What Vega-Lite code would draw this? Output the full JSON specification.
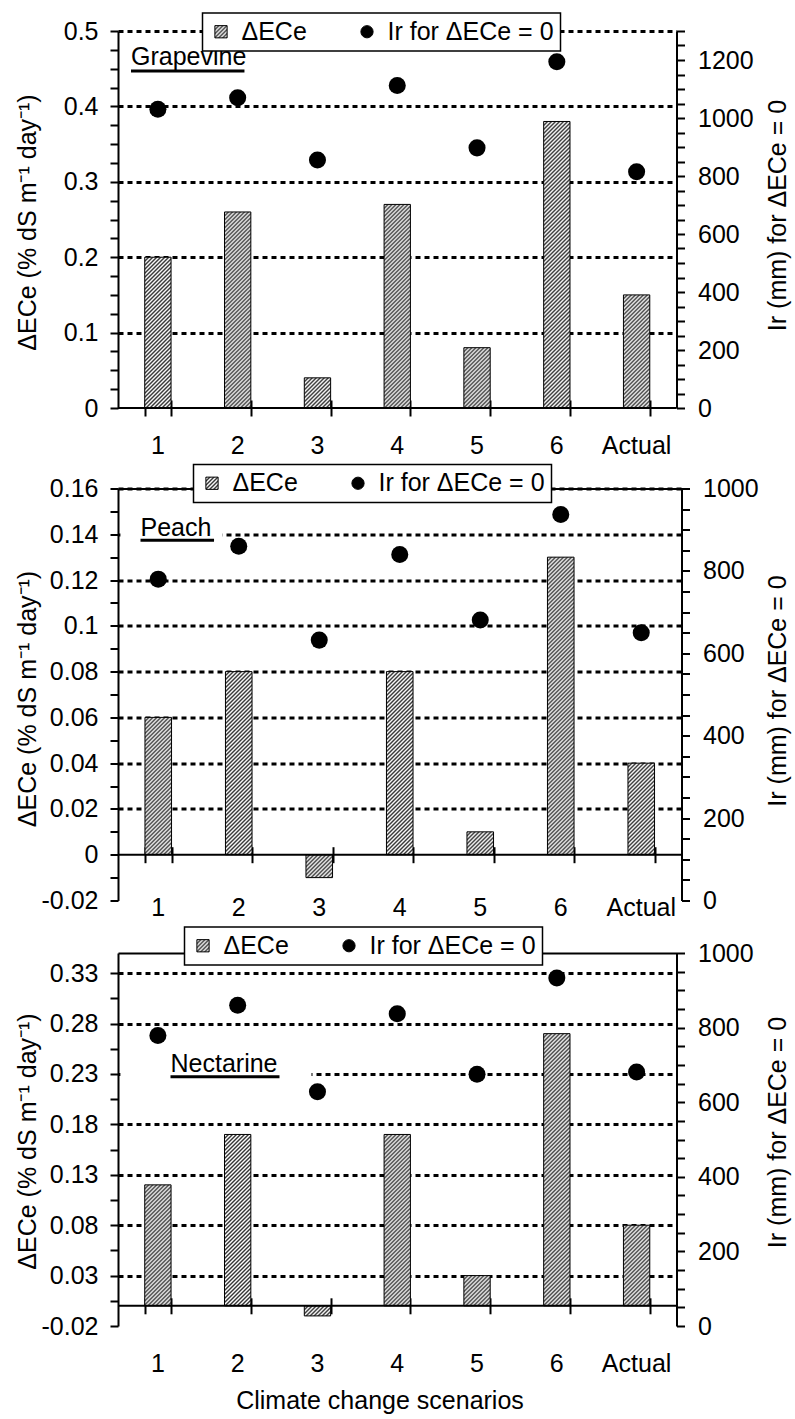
{
"$schema": "https://vega.github.io/schema/vega-lite/v6.json",
"background": "white",
"padding": {"left": 15, "top": 12, "right": 2, "bottom": 2},
"params": [{"name": "hs", "value": [
{"offset":0,"color":"#333"},{"offset":0.005,"color":"#fff"},{"offset":0.01,"color":"#333"},{"offset":0.015,"color":"#fff"},{"offset":0.02,"color":"#333"},{"offset":0.025,"color":"#fff"},{"offset":0.03,"color":"#333"},{"offset":0.035,"color":"#fff"},{"offset":0.04,"color":"#333"},{"offset":0.045,"color":"#fff"},
{"offset":0.05,"color":"#333"},{"offset":0.055,"color":"#fff"},{"offset":0.06,"color":"#333"},{"offset":0.065,"color":"#fff"},{"offset":0.07,"color":"#333"},{"offset":0.075,"color":"#fff"},{"offset":0.08,"color":"#333"},{"offset":0.085,"color":"#fff"},{"offset":0.09,"color":"#333"},{"offset":0.095,"color":"#fff"},
{"offset":0.1,"color":"#333"},{"offset":0.105,"color":"#fff"},{"offset":0.11,"color":"#333"},{"offset":0.115,"color":"#fff"},{"offset":0.12,"color":"#333"},{"offset":0.125,"color":"#fff"},{"offset":0.13,"color":"#333"},{"offset":0.135,"color":"#fff"},{"offset":0.14,"color":"#333"},{"offset":0.145,"color":"#fff"},
{"offset":0.15,"color":"#333"},{"offset":0.155,"color":"#fff"},{"offset":0.16,"color":"#333"},{"offset":0.165,"color":"#fff"},{"offset":0.17,"color":"#333"},{"offset":0.175,"color":"#fff"},{"offset":0.18,"color":"#333"},{"offset":0.185,"color":"#fff"},{"offset":0.19,"color":"#333"},{"offset":0.195,"color":"#fff"},
{"offset":0.2,"color":"#333"},{"offset":0.205,"color":"#fff"},{"offset":0.21,"color":"#333"},{"offset":0.215,"color":"#fff"},{"offset":0.22,"color":"#333"},{"offset":0.225,"color":"#fff"},{"offset":0.23,"color":"#333"},{"offset":0.235,"color":"#fff"},{"offset":0.24,"color":"#333"},{"offset":0.245,"color":"#fff"},
{"offset":0.25,"color":"#333"},{"offset":0.255,"color":"#fff"},{"offset":0.26,"color":"#333"},{"offset":0.265,"color":"#fff"},{"offset":0.27,"color":"#333"},{"offset":0.275,"color":"#fff"},{"offset":0.28,"color":"#333"},{"offset":0.285,"color":"#fff"},{"offset":0.29,"color":"#333"},{"offset":0.295,"color":"#fff"},
{"offset":0.3,"color":"#333"},{"offset":0.305,"color":"#fff"},{"offset":0.31,"color":"#333"},{"offset":0.315,"color":"#fff"},{"offset":0.32,"color":"#333"},{"offset":0.325,"color":"#fff"},{"offset":0.33,"color":"#333"},{"offset":0.335,"color":"#fff"},{"offset":0.34,"color":"#333"},{"offset":0.345,"color":"#fff"},
{"offset":0.35,"color":"#333"},{"offset":0.355,"color":"#fff"},{"offset":0.36,"color":"#333"},{"offset":0.365,"color":"#fff"},{"offset":0.37,"color":"#333"},{"offset":0.375,"color":"#fff"},{"offset":0.38,"color":"#333"},{"offset":0.385,"color":"#fff"},{"offset":0.39,"color":"#333"},{"offset":0.395,"color":"#fff"},
{"offset":0.4,"color":"#333"},{"offset":0.405,"color":"#fff"},{"offset":0.41,"color":"#333"},{"offset":0.415,"color":"#fff"},{"offset":0.42,"color":"#333"},{"offset":0.425,"color":"#fff"},{"offset":0.43,"color":"#333"},{"offset":0.435,"color":"#fff"},{"offset":0.44,"color":"#333"},{"offset":0.445,"color":"#fff"},
{"offset":0.45,"color":"#333"},{"offset":0.455,"color":"#fff"},{"offset":0.46,"color":"#333"},{"offset":0.465,"color":"#fff"},{"offset":0.47,"color":"#333"},{"offset":0.475,"color":"#fff"},{"offset":0.48,"color":"#333"},{"offset":0.485,"color":"#fff"},{"offset":0.49,"color":"#333"},{"offset":0.495,"color":"#fff"},
{"offset":0.5,"color":"#333"},{"offset":0.505,"color":"#fff"},{"offset":0.51,"color":"#333"},{"offset":0.515,"color":"#fff"},{"offset":0.52,"color":"#333"},{"offset":0.525,"color":"#fff"},{"offset":0.53,"color":"#333"},{"offset":0.535,"color":"#fff"},{"offset":0.54,"color":"#333"},{"offset":0.545,"color":"#fff"},
{"offset":0.55,"color":"#333"},{"offset":0.555,"color":"#fff"},{"offset":0.56,"color":"#333"},{"offset":0.565,"color":"#fff"},{"offset":0.57,"color":"#333"},{"offset":0.575,"color":"#fff"},{"offset":0.58,"color":"#333"},{"offset":0.585,"color":"#fff"},{"offset":0.59,"color":"#333"},{"offset":0.595,"color":"#fff"},
{"offset":0.6,"color":"#333"},{"offset":0.605,"color":"#fff"},{"offset":0.61,"color":"#333"},{"offset":0.615,"color":"#fff"},{"offset":0.62,"color":"#333"},{"offset":0.625,"color":"#fff"},{"offset":0.63,"color":"#333"},{"offset":0.635,"color":"#fff"},{"offset":0.64,"color":"#333"},{"offset":0.645,"color":"#fff"},
{"offset":0.65,"color":"#333"},{"offset":0.655,"color":"#fff"},{"offset":0.66,"color":"#333"},{"offset":0.665,"color":"#fff"},{"offset":0.67,"color":"#333"},{"offset":0.675,"color":"#fff"},{"offset":0.68,"color":"#333"},{"offset":0.685,"color":"#fff"},{"offset":0.69,"color":"#333"},{"offset":0.695,"color":"#fff"},
{"offset":0.7,"color":"#333"},{"offset":0.705,"color":"#fff"},{"offset":0.71,"color":"#333"},{"offset":0.715,"color":"#fff"},{"offset":0.72,"color":"#333"},{"offset":0.725,"color":"#fff"},{"offset":0.73,"color":"#333"},{"offset":0.735,"color":"#fff"},{"offset":0.74,"color":"#333"},{"offset":0.745,"color":"#fff"},
{"offset":0.75,"color":"#333"},{"offset":0.755,"color":"#fff"},{"offset":0.76,"color":"#333"},{"offset":0.765,"color":"#fff"},{"offset":0.77,"color":"#333"},{"offset":0.775,"color":"#fff"},{"offset":0.78,"color":"#333"},{"offset":0.785,"color":"#fff"},{"offset":0.79,"color":"#333"},{"offset":0.795,"color":"#fff"},
{"offset":0.8,"color":"#333"},{"offset":0.805,"color":"#fff"},{"offset":0.81,"color":"#333"},{"offset":0.815,"color":"#fff"},{"offset":0.82,"color":"#333"},{"offset":0.825,"color":"#fff"},{"offset":0.83,"color":"#333"},{"offset":0.835,"color":"#fff"},{"offset":0.84,"color":"#333"},{"offset":0.845,"color":"#fff"},
{"offset":0.85,"color":"#333"},{"offset":0.855,"color":"#fff"},{"offset":0.86,"color":"#333"},{"offset":0.865,"color":"#fff"},{"offset":0.87,"color":"#333"},{"offset":0.875,"color":"#fff"},{"offset":0.88,"color":"#333"},{"offset":0.885,"color":"#fff"},{"offset":0.89,"color":"#333"},{"offset":0.895,"color":"#fff"},
{"offset":0.9,"color":"#333"},{"offset":0.905,"color":"#fff"},{"offset":0.91,"color":"#333"},{"offset":0.915,"color":"#fff"},{"offset":0.92,"color":"#333"},{"offset":0.925,"color":"#fff"},{"offset":0.93,"color":"#333"},{"offset":0.935,"color":"#fff"},{"offset":0.94,"color":"#333"},{"offset":0.945,"color":"#fff"},
{"offset":0.95,"color":"#333"},{"offset":0.955,"color":"#fff"},{"offset":0.96,"color":"#333"},{"offset":0.965,"color":"#fff"},{"offset":0.97,"color":"#333"},{"offset":0.975,"color":"#fff"},{"offset":0.98,"color":"#333"},{"offset":0.985,"color":"#fff"},{"offset":0.99,"color":"#333"},{"offset":0.995,"color":"#fff"},
{"offset":1,"color":"#333"}
]}],
"config": {
  "font": "Liberation Sans",
  "view": {"stroke": null},
  "axis": {"labelFont": "Liberation Sans", "titleFont": "Liberation Sans", "labelFontSize": 25, "titleFontSize": 25, "labelColor": "black", "titleColor": "black", "titleFontWeight": "normal", "domainColor": "black", "domainWidth": 2, "tickColor": "black", "tickWidth": 2, "gridColor": "black", "gridWidth": 3, "gridDash": [5, 4]},
  "legend": {"labelFont": "Liberation Sans", "strokeWidth": 1.5},
  "text": {"font": "Liberation Sans"}
},
"resolve": {"scale": {"color": "independent"}},
"spacing": 5.5,
"vconcat": [
  {
   "width": 558.5, "height": 377,
   "resolve": {"scale": {"x": "independent", "y": "independent"}},
   "layer": [
    {
     "data": {"values": [{"s":"1","v":0.2},{"s":"2","v":0.26},{"s":"3","v":0.04},{"s":"4","v":0.27},{"s":"5","v":0.08},{"s":"6","v":0.38},{"s":"Actual","v":0.15}]},
     "mark": {"type": "bar", "stroke": "black", "strokeWidth": 1, "fill": {"expr": "{gradient: 'linear', x1: 0, y1: 0, x2: 400*26.33/(693.3+pow(abs(datum.v)*754,2)), y2: 400*abs(datum.v)*754/(693.3+pow(abs(datum.v)*754,2)), stops: hs}"}},
     "encoding": {
      "x": {"field": "s", "type": "nominal", "scale": {"domain": ["1","2","3","4","5","6","Actual"], "paddingInner": 0.67, "paddingOuter": 0.335}, "axis": {"orient": "bottom", "domain": false, "ticks": false, "grid": false, "labelAngle": 0, "labelPadding": 25, "title": null}},
      "y": {"field": "v", "type": "quantitative", "scale": {"domain": [0, 0.5], "nice": false, "zero": false}, "axis": {"orient": "left", "values": [0,0.025,0.05,0.075,0.1,0.125,0.15,0.175,0.2,0.225,0.25,0.275,0.3,0.325,0.35,0.375,0.4,0.425,0.45,0.475,0.5], "labelExpr": "indexof([0,0.1,0.2,0.3,0.4,0.5], datum.value) >= 0 ? toString(datum.value) : ''", "labelOverlap": false, "tickSize": 8, "labelPadding": 12, "grid": true, "gridOpacity": {"condition": {"test": "indexof([0.1,0.2,0.3,0.4,0.5], datum.value) >= 0", "value": 1}, "value": 0}, "title": "ΔECe (% dS m⁻¹ day⁻¹)", "titleX": -91, "titleY": 191, "titleAngle": -90, "titleBaseline": "middle", "titleAlign": "center"}},
      "color": {"datum": "ΔECe", "scale": {"domain": ["ΔECe", "Ir for ΔECe = 0"], "range": [{"expr": "{gradient: 'linear', x1: 0, y1: 0, x2: 16.4, y2: 16.4, stops: hs}"}, "#000000"]}, "legend": {"orient": "none", "legendX": 84.5, "legendY": -18, "direction": "horizontal", "title": null, "fillColor": "white", "strokeColor": "black", "padding": 6, "labelFontSize": 25, "labelColor": "black", "labelOffset": 8, "labelLimit": 0, "columnPadding": 47, "symbolSize": 150, "symbolStrokeColor": "black", "symbolStrokeWidth": 1, "symbolType": {"expr": "datum.value === 'ΔECe' ? 'square' : 'circle'"}}}
     }
    },
    {
     "data": {"values": [{"s":"1","ir":1030},{"s":"2","ir":1070},{"s":"3","ir":855},{"s":"4","ir":1112},{"s":"5","ir":897},{"s":"6","ir":1194},{"s":"Actual","ir":815}]},
     "mark": {"type": "point", "filled": true, "size": 290, "opacity": 1, "strokeWidth": 0},
     "encoding": {
      "x": {"field": "s", "type": "nominal", "scale": {"domain": ["1","2","3","4","5","6","Actual"], "paddingInner": 0.67, "paddingOuter": 0.335}, "axis": {"orient": "bottom", "domain": false, "labels": false, "ticks": true, "tickSize": 16, "tickBand": "extent", "offset": -8, "grid": false, "title": null}},
      "y": {"field": "ir", "type": "quantitative", "scale": {"domain": [0, 1300], "nice": false, "zero": false}, "axis": {"orient": "right", "values": [0,50,100,150,200,250,300,350,400,450,500,550,600,650,700,750,800,850,900,950,1000,1050,1100,1150,1200,1250,1300], "labelExpr": "datum.value % 200 === 0 ? toString(datum.value) : ''", "labelOverlap": false, "tickSize": 8, "labelPadding": 13, "grid": false, "title": "Ir (mm) for ΔECe = 0", "titleX": 101, "titleY": 184, "titleAngle": -90, "titleBaseline": "middle", "titleAlign": "center"}},
      "color": {"datum": "Ir for ΔECe = 0", "scale": {"domain": ["ΔECe", "Ir for ΔECe = 0"], "range": [{"expr": "{gradient: 'linear', x1: 0, y1: 0, x2: 16.4, y2: 16.4, stops: hs}"}, "#000000"]}, "legend": {"orient": "none", "legendX": 84.5, "legendY": -18, "direction": "horizontal", "title": null, "fillColor": "white", "strokeColor": "black", "padding": 6, "labelFontSize": 25, "labelColor": "black", "labelOffset": 8, "labelLimit": 0, "columnPadding": 47, "symbolSize": 150, "symbolStrokeColor": "black", "symbolStrokeWidth": 1, "symbolType": {"expr": "datum.value === 'ΔECe' ? 'square' : 'circle'"}}}
     }
    },
    {
     "data": {"values": [{}]},
     "mark": {"type": "rule", "strokeWidth": 2, "color": "black"},
     "encoding": {"y": {"datum": 0, "type": "quantitative", "scale": {"domain": [0, 0.5], "nice": false, "zero": false}, "axis": null}}
    },
    {
     "data": {"values": [{}]},
     "mark": {"type": "text", "text": "Grapevine", "align": "left", "baseline": "alphabetic", "fontSize": 25, "color": "black"},
     "encoding": {"x": {"datum": 0.163, "type": "quantitative", "scale": {"domain": [0, 7], "nice": false, "zero": false}, "axis": null}, "y": {"datum": 0.455, "type": "quantitative", "scale": {"domain": [0, 0.5], "nice": false, "zero": false}, "axis": null}}
    },
    {
     "data": {"values": [{}]},
     "mark": {"type": "rule", "strokeWidth": 3, "color": "black"},
     "encoding": {"x": {"datum": 0.163, "type": "quantitative", "scale": {"domain": [0, 7], "nice": false, "zero": false}, "axis": null}, "x2": {"datum": 1.585}, "y": {"datum": 0.4469, "type": "quantitative", "scale": {"domain": [0, 0.5], "nice": false, "zero": false}, "axis": null}}
    }
   ]
  },
  {
   "width": 563.5, "height": 412,
   "resolve": {"scale": {"x": "independent", "y": "independent"}},
   "layer": [
    {
     "data": {"values": [{"s":"1","v":0.06},{"s":"2","v":0.08},{"s":"3","v":-0.01},{"s":"4","v":0.08},{"s":"5","v":0.01},{"s":"6","v":0.13},{"s":"Actual","v":0.04}]},
     "mark": {"type": "bar", "stroke": "black", "strokeWidth": 1, "fill": {"expr": "{gradient: 'linear', x1: 0, y1: 0, x2: 400*26.57/(705.7+pow(abs(datum.v)*2288.9,2)), y2: 400*abs(datum.v)*2288.9/(705.7+pow(abs(datum.v)*2288.9,2)), stops: hs}"}},
     "encoding": {
      "x": {"field": "s", "type": "nominal", "scale": {"domain": ["1","2","3","4","5","6","Actual"], "paddingInner": 0.67, "paddingOuter": 0.335}, "axis": {"orient": "bottom", "domain": false, "ticks": false, "grid": false, "labelAngle": 0, "labelPadding": -5.5, "title": null}},
      "y": {"field": "v", "type": "quantitative", "scale": {"domain": [-0.02, 0.16], "nice": false, "zero": false}, "axis": {"orient": "left", "values": [-0.02,-0.01,0,0.01,0.02,0.03,0.04,0.05,0.06,0.07,0.08,0.09,0.1,0.11,0.12,0.13,0.14,0.15,0.16], "labelExpr": "indexof([-0.02,0,0.02,0.04,0.06,0.08,0.1,0.12,0.14,0.16], datum.value) >= 0 ? toString(datum.value) : ''", "labelOverlap": false, "tickSize": 8, "labelPadding": 12, "grid": true, "gridOpacity": {"condition": {"test": "indexof([0.02,0.04,0.06,0.08,0.1,0.12,0.14,0.16], datum.value) >= 0", "value": 1}, "value": 0}, "title": "ΔECe (% dS m⁻¹ day⁻¹)", "titleX": -91, "titleY": 210, "titleAngle": -90, "titleBaseline": "middle", "titleAlign": "center"}},
      "color": {"datum": "ΔECe", "scale": {"domain": ["ΔECe", "Ir for ΔECe = 0"], "range": [{"expr": "{gradient: 'linear', x1: 0, y1: 0, x2: 16.4, y2: 16.4, stops: hs}"}, "#000000"]}, "legend": {"orient": "none", "legendX": 75.5, "legendY": -24, "direction": "horizontal", "title": null, "fillColor": "white", "strokeColor": "black", "padding": 6, "labelFontSize": 25, "labelColor": "black", "labelOffset": 8, "labelLimit": 0, "columnPadding": 47, "symbolSize": 150, "symbolStrokeColor": "black", "symbolStrokeWidth": 1, "symbolType": {"expr": "datum.value === 'ΔECe' ? 'square' : 'circle'"}}}
     }
    },
    {
     "data": {"values": [{"s":"1","ir":780},{"s":"2","ir":860},{"s":"3","ir":632},{"s":"4","ir":840},{"s":"5","ir":681},{"s":"6","ir":937},{"s":"Actual","ir":650}]},
     "mark": {"type": "point", "filled": true, "size": 290, "opacity": 1, "strokeWidth": 0},
     "encoding": {
      "x": {"field": "s", "type": "nominal", "scale": {"domain": ["1","2","3","4","5","6","Actual"], "paddingInner": 0.67, "paddingOuter": 0.335}, "axis": {"orient": "bottom", "domain": false, "labels": false, "ticks": true, "tickSize": 16, "tickBand": "extent", "offset": -53.8, "grid": false, "title": null}},
      "y": {"field": "ir", "type": "quantitative", "scale": {"domain": [0, 1000], "nice": false, "zero": false}, "axis": {"orient": "right", "values": [0,50,100,150,200,250,300,350,400,450,500,550,600,650,700,750,800,850,900,950,1000], "labelExpr": "datum.value % 200 === 0 ? toString(datum.value) : ''", "labelOverlap": false, "tickSize": 8, "labelPadding": 13, "grid": false, "title": "Ir (mm) for ΔECe = 0", "titleX": 96, "titleY": 202, "titleAngle": -90, "titleBaseline": "middle", "titleAlign": "center"}},
      "color": {"datum": "Ir for ΔECe = 0", "scale": {"domain": ["ΔECe", "Ir for ΔECe = 0"], "range": [{"expr": "{gradient: 'linear', x1: 0, y1: 0, x2: 16.4, y2: 16.4, stops: hs}"}, "#000000"]}, "legend": {"orient": "none", "legendX": 75.5, "legendY": -24, "direction": "horizontal", "title": null, "fillColor": "white", "strokeColor": "black", "padding": 6, "labelFontSize": 25, "labelColor": "black", "labelOffset": 8, "labelLimit": 0, "columnPadding": 47, "symbolSize": 150, "symbolStrokeColor": "black", "symbolStrokeWidth": 1, "symbolType": {"expr": "datum.value === 'ΔECe' ? 'square' : 'circle'"}}}
     }
    },
    {
     "data": {"values": [{}]},
     "mark": {"type": "rule", "strokeWidth": 2, "color": "black"},
     "encoding": {"y": {"datum": 0, "type": "quantitative", "scale": {"domain": [-0.02, 0.16], "nice": false, "zero": false}, "axis": null}}
    },
    {
     "data": {"values": [{}]},
     "mark": {"type": "rect", "fill": "white", "strokeWidth": 0},
     "encoding": {"x": {"datum": 0.03, "type": "quantitative", "scale": {"domain": [0, 7], "nice": false, "zero": false}, "axis": {"orient": "top", "domain": true, "ticks": false, "labels": false, "grid": false, "title": null}}, "x2": {"datum": 1.298}, "y": {"datum": 0.1385, "type": "quantitative", "scale": {"domain": [-0.02, 0.16], "nice": false, "zero": false}, "axis": null}, "y2": {"datum": 0.1415}}
    },
    {
     "data": {"values": [{}]},
     "mark": {"type": "text", "text": "Peach", "align": "left", "baseline": "alphabetic", "fontSize": 25, "color": "black"},
     "encoding": {"x": {"datum": 0.2795, "type": "quantitative", "scale": {"domain": [0, 7], "nice": false, "zero": false}, "axis": null}, "y": {"datum": 0.1391, "type": "quantitative", "scale": {"domain": [-0.02, 0.16], "nice": false, "zero": false}, "axis": null}}
    },
    {
     "data": {"values": [{}]},
     "mark": {"type": "rule", "strokeWidth": 3, "color": "black"},
     "encoding": {"x": {"datum": 0.2795, "type": "quantitative", "scale": {"domain": [0, 7], "nice": false, "zero": false}, "axis": null}, "x2": {"datum": 1.193}, "y": {"datum": 0.1374, "type": "quantitative", "scale": {"domain": [-0.02, 0.16], "nice": false, "zero": false}, "axis": null}}
    }
   ]
  },
  {
   "width": 558.5, "height": 373,
   "resolve": {"scale": {"x": "independent", "y": "independent"}},
   "layer": [
    {
     "data": {"values": [{"s":"1","v":0.12},{"s":"2","v":0.17},{"s":"3","v":-0.01},{"s":"4","v":0.17},{"s":"5","v":0.03},{"s":"6","v":0.27},{"s":"Actual","v":0.08}]},
     "mark": {"type": "bar", "stroke": "black", "strokeWidth": 1, "fill": {"expr": "{gradient: 'linear', x1: 0, y1: 0, x2: 400*26.33/(693.3+pow(abs(datum.v)*1008.1,2)), y2: 400*abs(datum.v)*1008.1/(693.3+pow(abs(datum.v)*1008.1,2)), stops: hs}"}},
     "encoding": {
      "x": {"field": "s", "type": "nominal", "scale": {"domain": ["1","2","3","4","5","6","Actual"], "paddingInner": 0.67, "paddingOuter": 0.335}, "axis": {"orient": "bottom", "domain": false, "ticks": false, "grid": false, "labelAngle": 0, "labelPadding": 25, "title": "Climate change scenarios", "titleX": 261.5, "titleY": 62, "titleBaseline": "top", "titleAlign": "center"}},
      "y": {"field": "v", "type": "quantitative", "scale": {"domain": [-0.02, 0.35], "nice": false, "zero": false}, "axis": {"orient": "left", "values": [-0.02,0.005,0.03,0.055,0.08,0.105,0.13,0.155,0.18,0.205,0.23,0.255,0.28,0.305,0.33], "labelExpr": "indexof([-0.02,0.03,0.08,0.13,0.18,0.23,0.28,0.33], datum.value) >= 0 ? toString(datum.value) : ''", "labelOverlap": false, "tickSize": 8, "labelPadding": 12, "grid": true, "gridOpacity": {"condition": {"test": "indexof([0.03,0.08,0.13,0.18,0.23,0.28,0.33], datum.value) >= 0", "value": 1}, "value": 0}, "title": "ΔECe (% dS m⁻¹ day⁻¹)", "titleX": -91, "titleY": 188, "titleAngle": -90, "titleBaseline": "middle", "titleAlign": "center"}},
      "color": {"datum": "ΔECe", "scale": {"domain": ["ΔECe", "Ir for ΔECe = 0"], "range": [{"expr": "{gradient: 'linear', x1: 0, y1: 0, x2: 16.4, y2: 16.4, stops: hs}"}, "#000000"]}, "legend": {"orient": "none", "legendX": 66.5, "legendY": -26, "direction": "horizontal", "title": null, "fillColor": "white", "strokeColor": "black", "padding": 6, "labelFontSize": 25, "labelColor": "black", "labelOffset": 8, "labelLimit": 0, "columnPadding": 47, "symbolSize": 150, "symbolStrokeColor": "black", "symbolStrokeWidth": 1, "symbolType": {"expr": "datum.value === 'ΔECe' ? 'square' : 'circle'"}}}
     }
    },
    {
     "data": {"values": [{"s":"1","ir":779},{"s":"2","ir":860},{"s":"3","ir":628},{"s":"4","ir":837},{"s":"5","ir":675},{"s":"6","ir":933},{"s":"Actual","ir":681}]},
     "mark": {"type": "point", "filled": true, "size": 290, "opacity": 1, "strokeWidth": 0},
     "encoding": {
      "x": {"field": "s", "type": "nominal", "scale": {"domain": ["1","2","3","4","5","6","Actual"], "paddingInner": 0.67, "paddingOuter": 0.335}, "axis": {"orient": "bottom", "domain": false, "labels": false, "ticks": true, "tickSize": 16, "tickBand": "extent", "offset": -28.2, "grid": false, "title": null}},
      "y": {"field": "ir", "type": "quantitative", "scale": {"domain": [0, 1000], "nice": false, "zero": false}, "axis": {"orient": "right", "values": [0,50,100,150,200,250,300,350,400,450,500,550,600,650,700,750,800,850,900,950,1000], "labelExpr": "datum.value % 200 === 0 ? toString(datum.value) : ''", "labelOverlap": false, "tickSize": 8, "labelPadding": 13, "grid": false, "title": "Ir (mm) for ΔECe = 0", "titleX": 101, "titleY": 179, "titleAngle": -90, "titleBaseline": "middle", "titleAlign": "center"}},
      "color": {"datum": "Ir for ΔECe = 0", "scale": {"domain": ["ΔECe", "Ir for ΔECe = 0"], "range": [{"expr": "{gradient: 'linear', x1: 0, y1: 0, x2: 16.4, y2: 16.4, stops: hs}"}, "#000000"]}, "legend": {"orient": "none", "legendX": 66.5, "legendY": -26, "direction": "horizontal", "title": null, "fillColor": "white", "strokeColor": "black", "padding": 6, "labelFontSize": 25, "labelColor": "black", "labelOffset": 8, "labelLimit": 0, "columnPadding": 47, "symbolSize": 150, "symbolStrokeColor": "black", "symbolStrokeWidth": 1, "symbolType": {"expr": "datum.value === 'ΔECe' ? 'square' : 'circle'"}}}
     }
    },
    {
     "data": {"values": [{}]},
     "mark": {"type": "rule", "strokeWidth": 2, "color": "black"},
     "encoding": {"y": {"datum": 0, "type": "quantitative", "scale": {"domain": [-0.02, 0.35], "nice": false, "zero": false}, "axis": null}}
    },
    {
     "data": {"values": [{}]},
     "mark": {"type": "rect", "fill": "white", "strokeWidth": 0},
     "encoding": {"x": {"datum": 0.03, "type": "quantitative", "scale": {"domain": [0, 7], "nice": false, "zero": false}, "axis": {"orient": "top", "domain": true, "ticks": false, "labels": false, "grid": false, "title": null}}, "x2": {"datum": 2.425}, "y": {"datum": 0.228, "type": "quantitative", "scale": {"domain": [-0.02, 0.35], "nice": false, "zero": false}, "axis": null}, "y2": {"datum": 0.232}}
    },
    {
     "data": {"values": [{}]},
     "mark": {"type": "text", "text": "Nectarine", "align": "left", "baseline": "alphabetic", "fontSize": 25, "color": "black"},
     "encoding": {"x": {"datum": 0.658, "type": "quantitative", "scale": {"domain": [0, 7], "nice": false, "zero": false}, "axis": null}, "y": {"datum": 0.2321, "type": "quantitative", "scale": {"domain": [-0.02, 0.35], "nice": false, "zero": false}, "axis": null}}
    },
    {
     "data": {"values": [{}]},
     "mark": {"type": "rule", "strokeWidth": 3, "color": "black"},
     "encoding": {"x": {"datum": 0.658, "type": "quantitative", "scale": {"domain": [0, 7], "nice": false, "zero": false}, "axis": null}, "x2": {"datum": 2.024}, "y": {"datum": 0.2272, "type": "quantitative", "scale": {"domain": [-0.02, 0.35], "nice": false, "zero": false}, "axis": null}}
    }
   ]
  }
]
}
